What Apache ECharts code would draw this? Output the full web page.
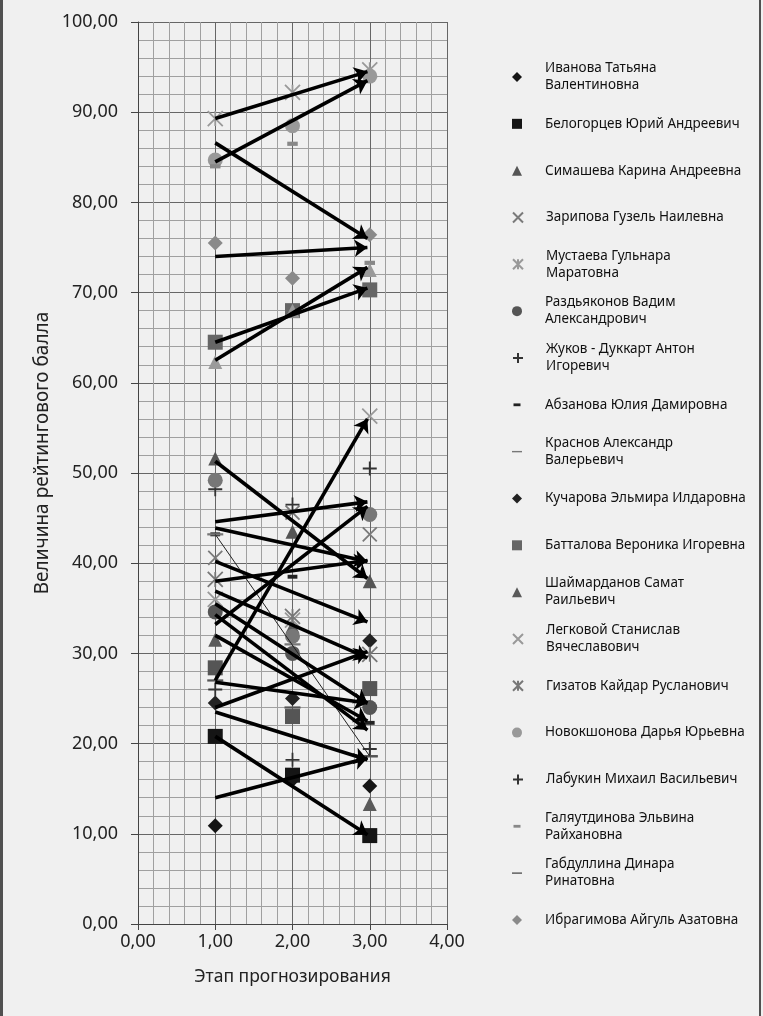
<!DOCTYPE html>
<html><head><meta charset="utf-8">
<script src="https://cdn.jsdelivr.net/npm/echarts@6/dist/echarts.min.js"></script>
<style>html,body{margin:0;padding:0;background:#f0f0f0}#c{width:763px;height:1016px}</style>
</head><body><div id="c"></div>
<script>
// ---------- DATA ----------
const stages = [1, 2, 3];
const xTickValues = [0, 1, 2, 3, 4];
const yTickValues = [0, 10, 20, 30, 40, 50, 60, 70, 80, 90, 100];
const seriesNames = [
  'Иванова Татьяна Валентиновна',
  'Белогорцев Юрий Андреевич',
  'Симашева Карина Андреевна',
  'Зарипова Гузель Наилевна',
  'Мустаева Гульнара Маратовна',
  'Раздьяконов Вадим Александрович',
  'Жуков - Дуккарт Антон Игоревич',
  'Абзанова Юлия Дамировна',
  'Краснов Александр Валерьевич',
  'Кучарова Эльмира Илдаровна',
  'Батталова Вероника Игоревна',
  'Шаймарданов Самат Раильевич',
  'Легковой Станислав Вячеславович',
  'Гизатов Кайдар Русланович',
  'Новокшонова Дарья Юрьевна',
  'Лабукин Михаил Васильевич',
  'Галяутдинова Эльвина Райхановна',
  'Габдуллина Динара Ринатовна',
  'Ибрагимова Айгуль Азатовна'
];
const legendLabels = [
  'Иванова Татьяна\nВалентиновна',
  'Белогорцев Юрий Андреевич',
  'Симашева Карина Андреевна',
  'Зарипова Гузель Наилевна',
  'Мустаева Гульнара\nМаратовна',
  'Раздьяконов Вадим\nАлександрович',
  'Жуков - Дуккарт Антон\nИгоревич',
  'Абзанова Юлия Дамировна',
  'Краснов Александр\nВалерьевич',
  'Кучарова Эльмира Илдаровна',
  'Батталова Вероника Игоревна',
  'Шаймарданов Самат\nРаильевич',
  'Легковой Станислав\nВячеславович',
  'Гизатов Кайдар Русланович',
  'Новокшонова Дарья Юрьевна',
  'Лабукин Михаил Васильевич',
  'Галяутдинова Эльвина\nРайхановна',
  'Габдуллина Динара\nРинатовна',
  'Ибрагимова Айгуль Азатовна'
];
// values at stages 1, 2, 3
const seriesValues = [
  [10.9, 16.0, 15.3],
  [20.8, 16.5, 9.8],
  [51.6, 43.5, 38.0],
  [40.6, 45.6, 43.2],
  [89.3, 92.2, 94.7],
  [34.6, 30.0, 24.0],
  [48.2, 46.5, 50.5],
  [43.2, 38.5, 22.3],
  [43.2, 31.0, 18.6],
  [24.5, 25.0, 31.4],
  [64.5, 68.0, 70.3],
  [31.5, 33.0, 13.3],
  [36.0, 33.7, 56.3],
  [38.2, 34.1, 29.9],
  [84.7, 88.5, 94.0],
  [26.0, 18.2, 19.4],
  [84.0, 86.5, 73.3],
  [27.0, 24.0, 18.6],
  [75.5, 71.6, 76.4]
];
// markers present in the plot but not listed in the legend
const extraValues = [
  [62.3, 68.0, 72.5],
  [28.4, 23.0, 26.1],
  [49.2, 31.9, 45.4]
];
// forecast arrows: value at stage 1 -> value at stage 3
const arrowStart = [89.3, 84.5, 86.6, 74.0, 64.5, 62.5,
  51.3, 44.6, 43.9, 40.2, 38.0, 36.9, 35.5, 34.3, 33.2, 32.0, 27.0, 26.8, 24.0, 23.5, 20.8, 14.0];
const arrowEnd = [94.5, 93.5, 76.0, 75.0, 70.5, 72.8,
  38.3, 46.8, 40.2, 33.5, 40.3, 29.5, 24.5, 21.5, 46.3, 22.5, 56.0, 24.5, 30.2, 18.2, 9.9, 18.4];
const thinLineStart = [43.2];
const thinLineEnd = [18.6];

// ---------- STYLES ----------
const SYM = {
  diamond: 'diamond', square: 'rect', triangle: 'triangle', circle: 'circle',
  cross: 'path://M0 0 L10 10 M10 0 L0 10',
  star: 'path://M0 0 L10 10 M10 0 L0 10 M5 0 L5 10',
  plus: 'path://M5 0 L5 10 M0 5 L10 5',
  dash: 'path://M0 0 M10 10 M1.5 3.6 H8.5 V6.4 H1.5 Z',
  longdash: 'path://M0 0 M10 10 M0 4.3 H10 V5.7 H0 Z'
};
const STROKED = {cross: 1, star: 1, plus: 1};
const seriesStyle = [
  ['diamond', '#151515', 15], ['square', '#151515', 15], ['triangle', '#555', 14],
  ['cross', '#7a7a7a', 14], ['star', '#999', 15], ['circle', '#555', 15],
  ['plus', '#333', 14], ['dash', '#222', 14], ['longdash', '#777', 16],
  ['diamond', '#222', 15], ['square', '#666', 15], ['triangle', '#5a5a5a', 14],
  ['cross', '#999', 15], ['star', '#777', 15], ['circle', '#999', 15],
  ['plus', '#333', 14], ['dash', '#888', 15], ['longdash', '#555', 16],
  ['diamond', '#8a8a8a', 15]
];
const extraStyle = [['triangle', '#9a9a9a', 14], ['square', '#555', 15], ['circle', '#777', 15]];

function makeScatter(name, vals, st) {
  const [sym, col, size] = st;
  const stroked = !!STROKED[sym];
  return {
    type: 'scatter', name: name,
    data: stages.map((s, i) => [s, vals[i]]),
    symbol: SYM[sym], symbolSize: size, symbolKeepAspect: true,
    itemStyle: {color: col, borderColor: col, borderWidth: stroked ? 1.8 : 0, opacity: 1},
    emphasis: {disabled: true}, z: 2
  };
}

const series = [];
seriesNames.forEach((n, i) => series.push(makeScatter(n, seriesValues[i], seriesStyle[i])));
extraValues.forEach((v, i) => series.push(makeScatter('Ряд ' + (20 + i), v, extraStyle[i])));
series.push({
  type: 'lines', coordinateSystem: 'cartesian2d', z: 4,
  data: thinLineStart.map((s, i) => ({coords: [[stages[0], s], [stages[2], thinLineEnd[i]]]})),
  lineStyle: {color: '#222', width: 1, opacity: 1}, symbol: 'none', silent: true
});
series.push({
  type: 'lines', coordinateSystem: 'cartesian2d', z: 5,
  data: arrowStart.map((s, i) => ({coords: [[stages[0], s], [stages[2] - 0.03, arrowEnd[i]]]})),
  lineStyle: {color: '#000', width: 3.6, opacity: 1},
  symbol: ['none', 'arrow'], symbolSize: 13, silent: true
});

const labelMap = {};
seriesNames.forEach((n, i) => labelMap[n] = legendLabels[i]);
const LH = 17, FIRST = 77, STEP = 46.83, TEXT_SHIFT = 18;
const legends = seriesNames.map((n, i) => {
  const two = legendLabels[i].indexOf('\n') >= 0;
  const h = two ? 3 * LH : LH;
  return {
    data: [n], left: 512, top: FIRST + i * STEP - h / 2, padding: 0,
    orient: 'vertical', itemWidth: 10, itemHeight: 10, symbolKeepAspect: true,
    selectedMode: false, formatter: nm => labelMap[nm],
    textStyle: {fontFamily: 'Noto Sans', fontSize: 13.5, color: '#111', lineHeight: LH,
      padding: two ? [LH, 0, 0, TEXT_SHIFT] : [0, 0, 0, TEXT_SHIFT]}
  };
});

const fmt = v => v.toFixed(2).replace('.', ',');
const chart = echarts.init(document.getElementById('c'), null, {renderer: 'canvas'});
chart.setOption({
  animation: false,
  backgroundColor: '#f0f0f0',
  textStyle: {fontFamily: 'Noto Sans'},
  grid: {left: 138, right: 316, top: 22, bottom: 92, containLabel: false},
  legend: legends,
  xAxis: {
    type: 'value', min: xTickValues[0], max: xTickValues[xTickValues.length - 1], interval: 1,
    name: 'Этап прогнозирования', nameLocation: 'middle', nameGap: 44,
    nameTextStyle: {fontSize: 17.5, color: '#222', fontFamily: 'Noto Sans'},
    axisLine: {show: true, onZero: false, lineStyle: {color: '#444', width: 1}},
    axisTick: {show: true, inside: false, length: 6, lineStyle: {color: '#444'}},
    axisLabel: {formatter: fmt, fontSize: 18, color: '#222', margin: 9, fontFamily: 'Noto Sans'},
    splitLine: {show: true, lineStyle: {color: '#666', width: 1}},
    minorTick: {show: false, splitNumber: 5},
    minorSplitLine: {show: true, lineStyle: {color: '#a0a0a0', width: 1}}
  },
  yAxis: {
    type: 'value', min: yTickValues[0], max: yTickValues[yTickValues.length - 1], interval: 10,
    name: 'Величина рейтингового балла', nameLocation: 'middle', nameGap: 86,
    nameTextStyle: {fontSize: 19, color: '#222', fontFamily: 'Noto Sans', padding: [0, 0, 0, 40]},
    axisLine: {show: true, onZero: false, lineStyle: {color: '#444', width: 1}},
    axisTick: {show: true, inside: false, length: 7, lineStyle: {color: '#444'}},
    axisLabel: {formatter: fmt, fontSize: 18, color: '#222', margin: 20, fontFamily: 'Noto Sans'},
    splitLine: {show: true, lineStyle: {color: '#666', width: 1}},
    minorTick: {show: false, splitNumber: 5},
    minorSplitLine: {show: true, lineStyle: {color: '#a0a0a0', width: 1}}
  },
  graphic: [
    {type: 'rect', left: 0, top: 0, shape: {width: 3, height: 1016}, style: {fill: '#505050'}, silent: true},
    {type: 'rect', left: 759, top: 0, shape: {width: 2, height: 1016}, style: {fill: '#505050'}, silent: true}
  ],
  series: series
});
</script></body></html>
